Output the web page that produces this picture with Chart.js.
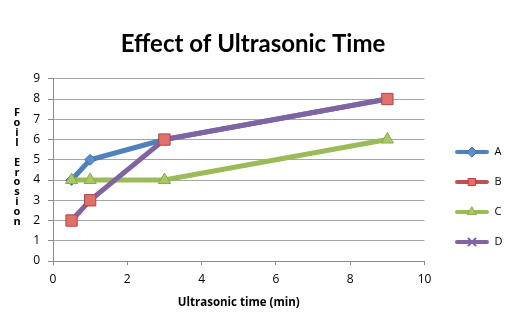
<!DOCTYPE html>
<html><head><meta charset="utf-8">
<script src="https://cdn.jsdelivr.net/npm/chart.js@4"></script>
<style>html,body{margin:0;padding:0;background:#fff}#wrap{width:517px;height:329px}</style>
</head><body><div id="wrap"><canvas id="c" width="517" height="329"></canvas></div>
<script>
const seriesNames = ['A', 'B', 'C', 'D'];
const timesA = [0.5, 1, 3, 9];
const valuesA = [4, 5, 6, 8];
const timesB = [0.5, 1, 3, 9];
const valuesB = [2, 3, 6, 8];
const timesC = [0.5, 1, 3, 9];
const valuesC = [4, 4, 4, 6];
const timesD = [0.5, 1, 3, 9];
const valuesD = [2, 3, 6, 8];
const xTicks = [0, 2, 4, 6, 8, 10];
const yTicks = [0, 1, 2, 3, 4, 5, 6, 7, 8, 9];
const titleText = 'Effect of Ultrasonic Time';
const xTitle = 'Ultrasonic time (min)';
const yTitle = 'Foil Erosion';

const pts = (xs, ys) => xs.map((x, i) => ({x: x, y: ys[i]}));

const styles = [
  {line: '#4f81bd', fill: '#5b8fcc', border: '#3f6fa8', ps: 'rectRot', r: 5.5, order: 3},
  {line: '#c0504d', fill: '#e0706c', border: '#b34440', ps: 'rect', r: 8, order: 0, noLine: true},
  {line: '#9bbb59', fill: '#a9c963', border: '#8aab48', ps: 'triangle', r: 7, order: 2},
  {line: '#8064a2', fill: '#8064a2', border: '#8064a2', ps: 'crossRot', r: 5, order: 1}
];
const dataSets = [pts(timesA, valuesA), pts(timesB, valuesB), pts(timesC, valuesC), pts(timesD, valuesD)];

function legendIcon(s) {
  const cv = document.createElement('canvas');
  cv.width = 34; cv.height = 14;
  const ctx = cv.getContext('2d');
  ctx.strokeStyle = s.line; ctx.lineWidth = 4; ctx.lineCap = 'round';
  ctx.beginPath(); ctx.moveTo(2, 7); ctx.lineTo(32, 7); ctx.stroke();
  ctx.fillStyle = s.fill; ctx.strokeStyle = s.ps === 'crossRot' ? s.line : s.border; ctx.lineWidth = s.ps === 'crossRot' ? 2 : 1;
  Chart.helpers.drawPoint(ctx, {pointStyle: s.ps, rotation: 0, radius: Math.min(s.r, 5), borderWidth: ctx.lineWidth}, 17, 7);
  return cv;
}

const datasets = seriesNames.map((n, i) => {
  const s = styles[i];
  return {
    label: n,
    data: dataSets[i],
    borderColor: s.line,
    backgroundColor: s.fill,
    borderWidth: 5,
    showLine: !s.noLine,
    pointStyle: s.ps,
    pointRadius: s.r,
    pointHoverRadius: s.r,
    pointBackgroundColor: s.fill,
    pointBorderColor: s.ps === 'crossRot' ? s.line : s.border,
    pointBorderWidth: s.ps === 'crossRot' ? 2 : 1,
    order: s.order,
    tension: 0,
    legendIcon: legendIcon(s)
  };
});

const yTitlePlugin = {
  id: 'yTitleStacked',
  afterDraw(chart) {
    const ctx = chart.ctx;
    ctx.save();
    ctx.font = 'bold 11px "Open Sans", sans-serif';
    ctx.fillStyle = '#000';
    ctx.textAlign = 'center';
    ctx.textBaseline = 'middle';
    const letters = yTitle.split('');
    const step = 9.9;
    let y = 113;
    letters.forEach(ch => {
      if (ch !== ' ') ctx.fillText(ch, 17, y);
      y += step;
    });
    ctx.restore();
  }
};

const legendAdjust = {
  id: 'legendAdjust',
  beforeLayout(chart) {
    const L = chart.legend;
    if (L && !L._widened) {
      const orig = L.update.bind(L);
      L.update = function (w, h, m) { orig(w, h, m); this.width += 5; };
      L._widened = true;
    }
  },
  afterLayout(chart) {
    const L = chart.legend;
    if (!L) return;
    const dx = (455 - L.options.labels.padding) - L.left;
    L.left += dx; L.right += dx;
    L.top += 42; L.bottom += 42;
  }
};

new Chart(document.getElementById('c'), {
  type: 'line',
  data: {datasets: datasets},
  options: {
    responsive: false,
    animation: false,
    layout: {padding: {left: 0, right: 11, top: 0, bottom: 19}},
    plugins: {
      title: {
        display: true, text: titleText, color: '#000',
        font: {family: 'Lato', size: 24, weight: 'bold'},
        padding: {top: 30, bottom: 20}
      },
      legend: {
        position: 'right',
        sort: (a, b) => a.datasetIndex - b.datasetIndex,
        labels: {
          usePointStyle: true,
          pointStyleWidth: 34,
          boxHeight: 12,
          padding: 19,
          color: '#000',
          font: {family: 'Open Sans', size: 11},
          generateLabels(chart) {
            return chart.data.datasets.map((d, i) => ({
              text: d.label, datasetIndex: i, pointStyle: d.legendIcon,
              fillStyle: d.backgroundColor, strokeStyle: d.borderColor, lineWidth: 0, hidden: false, fontColor: '#000'
            }));
          }
        }
      },
      tooltip: {enabled: false}
    },
    scales: {
      x: {
        type: 'linear', min: 0, max: 10,
        afterBuildTicks: s => { s.ticks = xTicks.map(v => ({value: v})); },
        afterFit: s => { s.height = 49; },
        grid: {display: true, drawOnChartArea: false, drawTicks: true, tickLength: 4, color: '#8c8c8c'},
        border: {color: '#8c8c8c', width: 1},
        ticks: {color: '#000', font: {family: 'Open Sans', size: 12}, padding: 7, maxRotation: 0},
        title: {display: true, text: xTitle, color: '#000', font: {family: 'Open Sans', size: 11.5, weight: 'bold'}, padding: {top: 4, bottom: 0}}
      },
      y: {
        type: 'linear', min: 0, max: 9,
        afterBuildTicks: s => { s.ticks = yTicks.map(v => ({value: v})); },
        afterFit: s => { s.width = 53; },
        grid: {color: '#a6a6a6', tickLength: 5, drawTicks: true, tickColor: '#8c8c8c'},
        border: {color: '#8c8c8c', width: 1},
        ticks: {color: '#000', font: {family: 'Open Sans', size: 12}, padding: 8}
      }
    }
  },
  plugins: [yTitlePlugin, legendAdjust]
});
</script>
</body></html>
